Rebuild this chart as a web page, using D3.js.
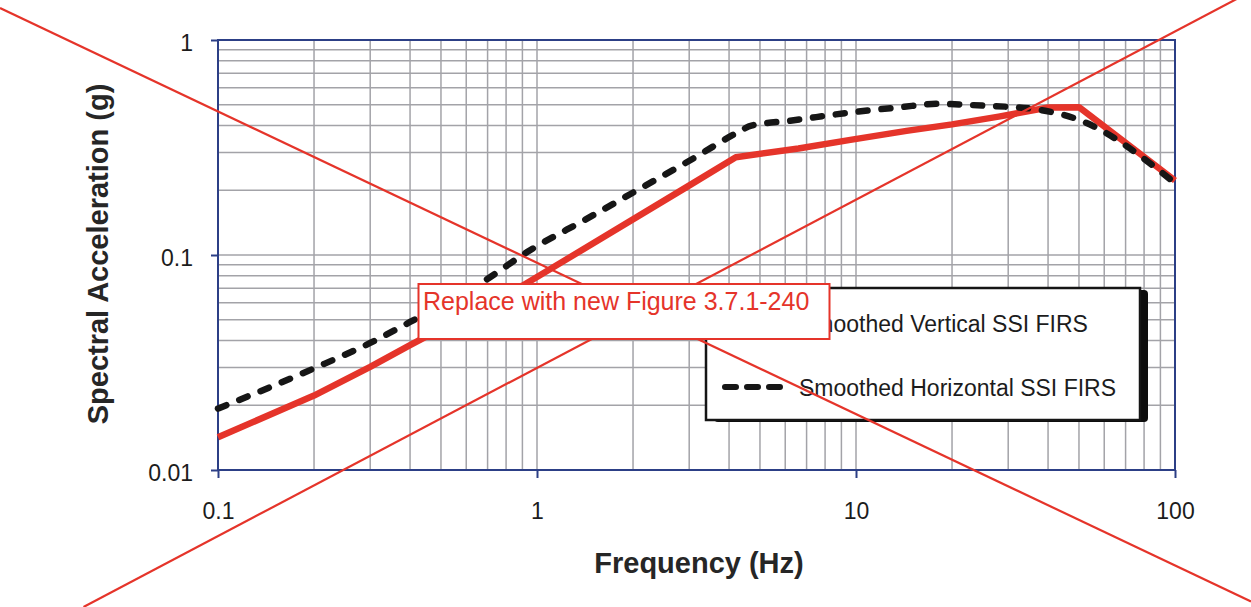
<!DOCTYPE html>
<html>
<head>
<meta charset="utf-8">
<script src="https://cdn.jsdelivr.net/npm/d3@7"></script>
<style>
  html, body { margin: 0; padding: 0; background: #ffffff; }
  svg { display: block; }
</style>
</head>
<body>
<svg id="chart" width="1251" height="607"></svg>
<script>
// Smoothed SSI FIRS response spectra: frequency (Hz) vs spectral acceleration (g)
const vertFreq  = [0.1, 0.2, 0.3, 0.4, 0.9, 1.18, 2.96, 4.2, 6.6, 9.6, 14.4, 20, 28, 40, 50, 100];
const vertAccel = [0.0142, 0.0222, 0.0302, 0.0381, 0.072, 0.0915, 0.208, 0.285, 0.313, 0.343, 0.378, 0.405, 0.44, 0.485, 0.487, 0.222];

const horizFreq  = [0.1, 0.2, 0.3, 0.4, 0.665, 0.954, 1.44, 2.06, 3.1, 4.3, 4.7, 6.2, 9.6, 13.8, 18, 25, 35, 50, 100];
const horizAccel = [0.0193, 0.0297, 0.039, 0.0488, 0.0738, 0.1055, 0.148, 0.2, 0.282, 0.375, 0.40, 0.421, 0.46, 0.487, 0.505, 0.495, 0.48, 0.425, 0.216];

const xTickValues = [0.1, 1, 10, 100];
const xTickLabels = ["0.1", "1", "10", "100"];
const yTickValues = [0.01, 0.1, 1];
const yTickLabels = ["0.01", "0.1", "1"];

const xTitle = "Frequency (Hz)";
const yTitle = "Spectral Acceleration (g)";
const legendLabels = ["Smoothed Vertical SSI FIRS", "Smoothed Horizontal SSI FIRS"];
const stampText = "Replace with new Figure 3.7.1-240";

const W = 1251, H = 607;
const plot = { left: 218, right: 1175, top: 40, bottom: 470 };

const svg = d3.select("#chart");
const FONT = "'Liberation Sans', Arial, Helvetica, sans-serif";
const AXIS_COLOR = "#2c3f86";
const GRID_COLOR = "#a3a3a8";
const RED = "#e5342a";
const TEXT = "#1c1c1c";

svg.append("rect").attr("width", W).attr("height", H).attr("fill", "#ffffff");

const x = d3.scaleLog().domain([0.1, 100]).range([plot.left, plot.right]);
const y = d3.scaleLog().domain([0.01, 1]).range([plot.bottom, plot.top]);

// Log grid: every integer multiple inside each decade
function decadeLines(lo, hi) {
  const out = [];
  for (let d = lo; d < hi * 0.999; d *= 10) {
    for (let k = 1; k <= 9; k++) out.push(k * d);
  }
  out.push(hi);
  return out;
}
const xGrid = decadeLines(0.1, 100);
const yGrid = decadeLines(0.01, 1);

const grid = svg.append("g").attr("class", "grid")
  .attr("stroke", GRID_COLOR).attr("stroke-width", 1.5);
grid.selectAll("line.v").data(xGrid).join("line").attr("class", "v")
  .attr("x1", d => x(d)).attr("x2", d => x(d))
  .attr("y1", plot.top).attr("y2", plot.bottom);
grid.selectAll("line.h").data(yGrid).join("line").attr("class", "h")
  .attr("x1", plot.left).attr("x2", plot.right)
  .attr("y1", d => y(d)).attr("y2", d => y(d));

// Axes
const xAxis = d3.axisBottom(x)
  .tickValues(xTickValues)
  .tickFormat((d, i) => xTickLabels[i])
  .tickSize(8).tickPadding(25);
const yAxis = d3.axisLeft(y)
  .tickValues(yTickValues)
  .tickFormat((d, i) => yTickLabels[i])
  .tickSize(7).tickPadding(18);

const gx = svg.append("g").attr("transform", `translate(0,${plot.bottom})`).call(xAxis);
const gy = svg.append("g").attr("transform", `translate(${plot.left},0)`).call(yAxis);
[gx, gy].forEach(g => {
  g.select(".domain").remove();
  g.selectAll(".tick line").attr("stroke", AXIS_COLOR).attr("stroke-width", 2);
  g.selectAll(".tick text")
    .attr("fill", TEXT)
    .style("font-family", FONT)
    .style("font-size", "23px");
});
gy.selectAll(".tick text").attr("dy", "0.46em");

// Plot frame
svg.append("rect")
  .attr("x", plot.left).attr("y", plot.top)
  .attr("width", plot.right - plot.left).attr("height", plot.bottom - plot.top)
  .attr("fill", "none").attr("stroke", AXIS_COLOR).attr("stroke-width", 2);

// Axis titles
svg.append("text")
  .attr("x", 699).attr("y", 573)
  .attr("text-anchor", "middle")
  .attr("fill", "#262626")
  .style("font-family", FONT).style("font-size", "29px").style("font-weight", "bold")
  .text(xTitle);
svg.append("text")
  .attr("transform", "translate(108,254) rotate(-90)")
  .attr("text-anchor", "middle")
  .attr("fill", "#262626")
  .style("font-family", FONT).style("font-size", "29px").style("font-weight", "bold")
  .text(yTitle);

// Spectra
const vertData = vertFreq.map((f, i) => ({ f, a: vertAccel[i] }));
const horizData = horizFreq.map((f, i) => ({ f, a: horizAccel[i] }));

const linePath = d3.line().x(d => x(d.f)).y(d => y(d.a));
const smoothPath = d3.line().x(d => x(d.f)).y(d => y(d.a)).curve(d3.curveMonotoneX);

svg.append("path").datum(vertData)
  .attr("d", linePath)
  .attr("fill", "none").attr("stroke", RED).attr("stroke-width", 6.5)
  .attr("stroke-linejoin", "round");
svg.append("path").datum(horizData)
  .attr("d", smoothPath)
  .attr("fill", "none").attr("stroke", "#161616").attr("stroke-width", 6.5)
  .attr("stroke-dasharray", "9,14").attr("stroke-linecap", "round");

// Legend with drop shadow
const lg = { x: 706, y: 288, w: 434, h: 132 };
svg.append("rect")
  .attr("x", lg.x + 8).attr("y", lg.y + 2)
  .attr("width", lg.w).attr("height", lg.h)
  .attr("rx", 4).attr("fill", "#0d0d0d");
svg.append("rect")
  .attr("x", lg.x).attr("y", lg.y)
  .attr("width", lg.w).attr("height", lg.h)
  .attr("fill", "#ffffff").attr("stroke", "#151515").attr("stroke-width", 2.5);

const legendRows = [
  { label: legendLabels[0], color: RED, dash: null, y: 323 },
  { label: legendLabels[1], color: "#161616", dash: "11,11", y: 387 }
];
legendRows.forEach(r => {
  const s = svg.append("line")
    .attr("x1", 725).attr("x2", 782)
    .attr("y1", r.y).attr("y2", r.y)
    .attr("stroke", r.color).attr("stroke-width", 6)
    .attr("stroke-linecap", "round");
  if (r.dash) s.attr("stroke-dasharray", r.dash);
  svg.append("text")
    .attr("x", 799).attr("y", r.y + 8.5)
    .attr("fill", TEXT)
    .style("font-family", FONT).style("font-size", "23px")
    .text(r.label);
});

// Cross-out lines
const cross = [
  { x1: 0, y1: 8, x2: 1251, y2: 601.5 },
  { x1: 83.5, y1: 607, x2: 1251, y2: -8.6 }
];
svg.selectAll("line.cross").data(cross).join("line").attr("class", "cross")
  .attr("x1", d => d.x1).attr("y1", d => d.y1)
  .attr("x2", d => d.x2).attr("y2", d => d.y2)
  .attr("stroke", RED).attr("stroke-width", 2.2);

// Replacement note
svg.append("rect")
  .attr("x", 418.5).attr("y", 284)
  .attr("width", 411).attr("height", 55)
  .attr("fill", "#ffffff").attr("stroke", RED).attr("stroke-width", 2);
svg.append("text")
  .attr("x", 423).attr("y", 309.5)
  .attr("fill", RED)
  .style("font-family", FONT).style("font-size", "25px")
  .text(stampText);
</script>
</body>
</html>
